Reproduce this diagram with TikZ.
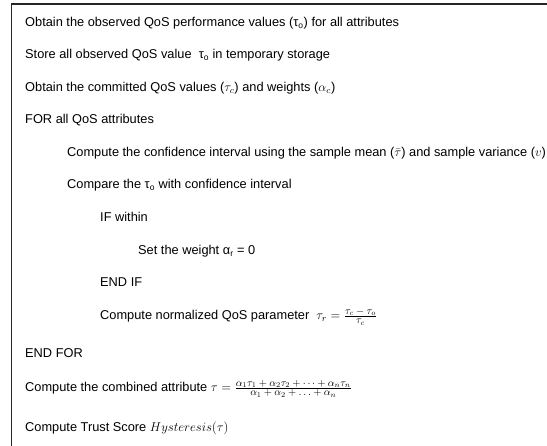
\RequirePackage{fix-cm}
\documentclass[tikz,border=0pt]{standalone}
\usepackage{amsmath}
\usepackage{fontspec}
\setmainfont{Liberation Sans}
\newcommand\lowsub[1]{\textsubscript{\fontsize{8.5}{9}\selectfont #1}}
\newcommand\fracpart[1]{\mbox{\fontsize{10.5}{12}\selectfont$#1$}}
\usetikzlibrary{positioning}
\tikzset{stmt/.style = {anchor=base west, inner sep=0pt, font=\fontsize{12.8}{15}\selectfont}}
\tikzset{frame/.style = {line width=1.5pt, draw=black!85}}

\begin{document}
\begin{tikzpicture}[x=1pt, y=-1pt]
\useasboundingbox (0,0) rectangle (547,446);

% only the top and left edges of the frame are shown
\draw[frame] (11.5,446) -- (11.5,4) -- (547,4);

\node[stmt] (obs)   at (25,26.5)  {Obtain the observed QoS performance values (τ\lowsub{o}) for all attributes};
\node[stmt] (store) at (25,59)    {Store all observed QoS value \ τ\lowsub{o} in temporary storage};
\node[stmt] (comm)  at (25,91.5)  {Obtain the committed QoS values ($\tau_c$) and weights ($\alpha_c$)};
\node[stmt] (for)   at (25,124)   {FOR all QoS attributes};
\node[stmt] (conf)  at (67,156.5) {Compute the confidence interval using the sample mean ($\bar{\tau}$) and sample variance ($v$)};
\node[stmt] (cmp)   at (67,189)   {Compare the τ\lowsub{o} with confidence interval};
\node[stmt] (if)    at (100,221.5){IF within};
\node[stmt] (set)   at (138,254.5){Set the weight α\lowsub{r} = 0};
\node[stmt] (endif) at (100,286.5){END IF};
\node[stmt] (norm)  at (100,319.5){Compute normalized QoS parameter \ $\tau_r = \frac{\fracpart{\tau_c - \tau_o}}{\fracpart{\tau_c}}$};
\node[stmt] (endfor) at (25,357.5){END FOR};
\node[stmt] (comb)  at (25,391.5) {Compute the combined attribute $\tau = \frac{\fracpart{\alpha_1\tau_1 + \alpha_2\tau_2 + \cdots + \alpha_n\tau_n}}{\fracpart{\alpha_1 + \alpha_2 + \ldots + \alpha_n}}$};
\node[stmt] (trust) at (25,431.5) {Compute Trust Score $Hysteresis(\tau)$};

\end{tikzpicture}
\end{document}
